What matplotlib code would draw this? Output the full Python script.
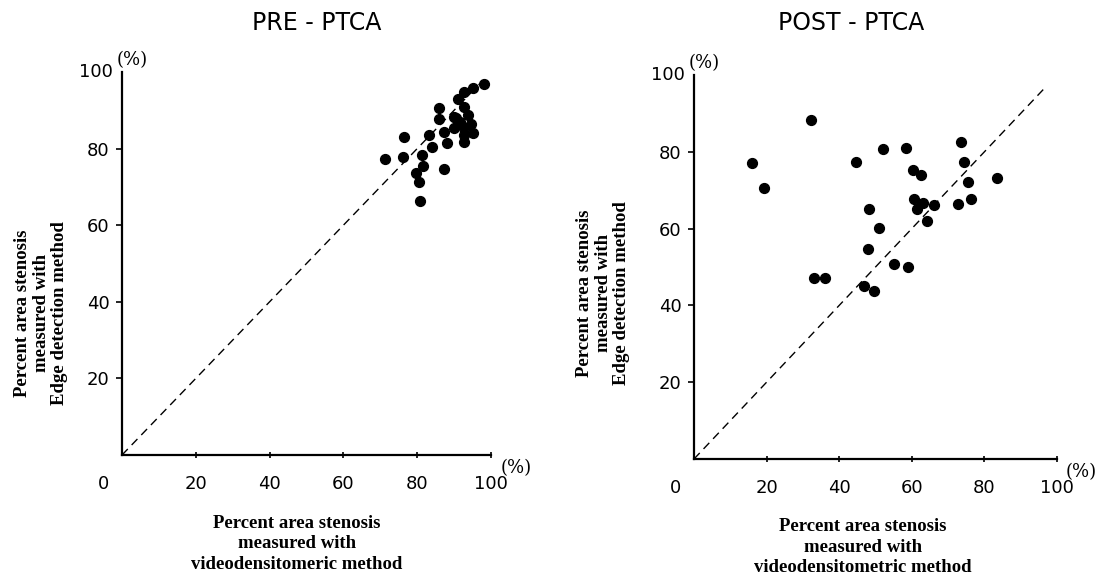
import matplotlib
matplotlib.use("Agg")
import matplotlib.pyplot as plt

# PRE-PTCA: videodensitometric (x) vs edge detection (y), %
pre_x = [71.3, 76.5, 76.1, 79.6, 80.6, 80.7, 81.4, 81.5, 83.2, 83.9, 86.0, 86.0,
         87.3, 87.2, 88.2, 89.9, 90.0, 91.0, 91.7, 92.6, 92.6, 92.7, 92.7, 92.7,
         93.7, 94.6, 95.0, 95.2, 98.2, 90.5]
pre_y = [77.3, 82.9, 77.7, 73.5, 71.2, 66.2, 78.4, 75.5, 83.5, 80.5, 90.5, 87.6,
         84.4, 74.6, 81.4, 88.3, 85.3, 92.9, 87.0, 94.7, 81.8, 90.9, 85.4, 83.5,
         88.8, 86.3, 84.0, 95.7, 96.9, 88.0]

# POST-PTCA
post_x = [16.1, 19.3, 32.2, 33.0, 36.2, 44.7, 48.1, 50.9, 48.0, 46.9, 49.5, 52.1,
          55.0, 59.0, 58.3, 60.3, 62.4, 60.5, 61.3, 63.1, 64.1, 66.1, 72.7, 73.6,
          74.5, 75.5, 76.2, 83.5]
post_y = [77.2, 70.5, 88.2, 47.2, 47.2, 77.4, 65.2, 60.2, 54.8, 45.1, 43.8, 80.8,
          50.8, 50.0, 81.1, 75.2, 74.0, 67.8, 65.0, 66.6, 62.0, 66.2, 66.3, 82.5,
          77.3, 72.1, 67.8, 73.3]

titles = ["PRE - PTCA", "POST - PTCA"]
tick_vals = [20, 40, 60, 80, 100]
ylabel_txt = "Percent area stenosis\nmeasured with\nEdge detection method"
xlabel_txts = ["Percent area stenosis\nmeasured with\nvideodensitomeric method",
               "Percent area stenosis\nmeasured with\nvideodensitometric method"]

W, H = 1110, 578
fig = plt.figure(figsize=(W / 100, H / 100), dpi=100)

tick_font = dict(family=["DejaVu Sans"], size=13)
pct_font = dict(family=["DejaVu Serif"], size=13)
title_font = dict(family=["DejaVu Sans"], size=17)
label_font = dict(family=["Liberation Serif", "DejaVu Serif"], size=13.5, weight="bold")

def fx(px):
    return px / W

def fy(py):
    return 1 - py / H

panels = [
    dict(x0=122, x1=491, y0=455, y1=72, xs=pre_x, ys=pre_y, title=titles[0],
         tx=317, xl=xlabel_txts[0], xlx=297, xly=544, ylx=41, yly=313),
    dict(x0=694, x1=1057, y0=459, y1=75, xs=post_x, ys=post_y, title=titles[1],
         tx=851, xl=xlabel_txts[1], xlx=863, xly=547, ylx=603, yly=293),
]

for p in panels:
    ax = fig.add_axes([fx(p["x0"]), fy(p["y0"]), (p["x1"] - p["x0"]) / W,
                       (p["y0"] - p["y1"]) / H])
    ax.set_xlim(0, 100)
    ax.set_ylim(0, 100)
    ax.spines["top"].set_visible(False)
    ax.spines["right"].set_visible(False)
    ax.spines["left"].set_linewidth(1.6)
    ax.spines["bottom"].set_linewidth(1.6)
    ax.plot([0, 97], [0, 97], ls=(0, (6, 4)), color="black", lw=1.0)
    ax.scatter(p["xs"], p["ys"], s=50, color="black", zorder=3, clip_on=False)
    ax.set_xticks(tick_vals)
    ax.set_yticks(tick_vals[:-1])
    ax.set_xticklabels([str(v) for v in tick_vals], **tick_font)
    ax.set_yticklabels([str(v) for v in tick_vals[:-1]], **tick_font)
    ax.tick_params(axis="x", direction="inout", length=5, width=1.2, pad=12)
    ax.tick_params(axis="y", direction="out", length=4, width=1.2, pad=5)
    ax.text(-2.5, 100, "100", ha="right", va="center", **tick_font)
    ax.text(-1.5, 103, "(%)", ha="left", va="center", **pct_font)
    ax.text(102.5, -3.5, "(%)", ha="left", va="center", **pct_font)
    ax.text(-5, -7.5, "0", ha="center", va="center", clip_on=False, **tick_font)
    fig.text(fx(p["tx"]), fy(23), p["title"], ha="center", va="center", **title_font)
    fig.text(fx(p["xlx"]), fy(p["xly"]), p["xl"], ha="center", va="center",
             linespacing=1.25, **label_font)
    fig.text(fx(p["ylx"]), fy(p["yly"]), ylabel_txt, ha="center", va="center",
             rotation=90, linespacing=1.1, **label_font)

fig.savefig("out.png", dpi=100)
